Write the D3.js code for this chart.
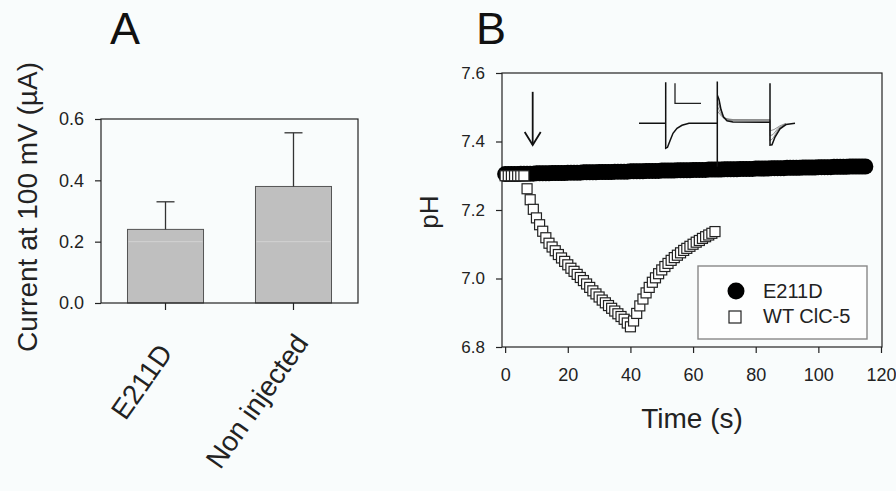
<!DOCTYPE html>
<html>
<head>
<meta charset="utf-8">
<script src="https://cdn.jsdelivr.net/npm/d3@7/dist/d3.min.js"></script>
<style>
  body { margin: 0; background: #f9fcfc; }
  svg { display: block; font-family: "Liberation Sans", Arial, Helvetica, sans-serif; }
  .axis path, .axis line { stroke: #222; stroke-width: 1.2; }
  .axis text { fill: #222; }
</style>
</head>
<body>
<svg id="fig" width="896" height="491"></svg>
<script>
// ---- panel A data: current at 100 mV ----
var categories = ["E211D", "Non injected"];
var currentMean = [0.24, 0.38];
var currentSem = [0.09, 0.175];
var currentTicks = [0, 0.2, 0.4, 0.6];

// ---- panel B data: intracellular pH vs time ----
var timeE211D = [
  0, 1, 2, 3, 4, 5, 6, 7, 8, 9, 10, 11, 12, 13, 14, 15, 16, 17, 18, 19,
  20, 21, 22, 23, 24, 25, 26, 27, 28, 29, 30, 31, 32, 33, 34, 35, 36, 37, 38, 39,
  40, 41, 42, 43, 44, 45, 46, 47, 48, 49, 50, 51, 52, 53, 54, 55, 56, 57, 58, 59,
  60, 61, 62, 63, 64, 65, 66, 67, 68, 69, 70, 71, 72, 73, 74, 75, 76, 77, 78, 79,
  80, 81, 82, 83, 84, 85, 86, 87, 88, 89, 90, 91, 92, 93, 94, 95, 96, 97, 98, 99,
  100, 101, 102, 103, 104, 105, 106, 107, 108, 109, 110, 111, 112, 113, 114, 115
];
var phE211D = [
  7.305, 7.305, 7.305, 7.305, 7.305, 7.306, 7.306, 7.306, 7.306, 7.306,
  7.307, 7.307, 7.307, 7.307, 7.307, 7.308, 7.308, 7.308, 7.308, 7.308,
  7.309, 7.309, 7.309, 7.309, 7.309, 7.310, 7.310, 7.310, 7.310, 7.310,
  7.311, 7.311, 7.311, 7.311, 7.311, 7.312, 7.312, 7.312, 7.312, 7.312,
  7.313, 7.313, 7.313, 7.313, 7.313, 7.314, 7.314, 7.314, 7.314, 7.314,
  7.315, 7.315, 7.315, 7.315, 7.315, 7.316, 7.316, 7.316, 7.316, 7.316,
  7.317, 7.317, 7.317, 7.317, 7.317, 7.318, 7.318, 7.318, 7.318, 7.318,
  7.319, 7.319, 7.319, 7.319, 7.319, 7.320, 7.320, 7.320, 7.320, 7.320,
  7.321, 7.321, 7.321, 7.321, 7.321, 7.322, 7.322, 7.322, 7.322, 7.322,
  7.323, 7.323, 7.323, 7.323, 7.323, 7.324, 7.324, 7.324, 7.324, 7.324,
  7.325, 7.325, 7.325, 7.325, 7.325, 7.326, 7.326, 7.326, 7.326, 7.326,
  7.327, 7.327, 7.327, 7.327, 7.327, 7.327
];
var timeWT = [
  0, 1, 2, 3, 4, 5, 6, 7, 8, 9, 10, 11, 12, 13, 14, 15, 16, 17, 18, 19,
  20, 21, 22, 23, 24, 25, 26, 27, 28, 29, 30, 31, 32, 33, 34, 35, 36, 37, 38, 39,
  40, 41, 42, 43, 44, 45, 46, 47, 48, 49, 50, 51, 52, 53, 54, 55, 56, 57, 58, 59,
  60, 61, 62, 63, 64, 65, 66, 67
];
var phWT = [
  7.300, 7.300, 7.300, 7.300, 7.300, 7.300, 7.300, 7.262, 7.230, 7.202,
  7.177, 7.157, 7.138, 7.119, 7.103, 7.092, 7.081, 7.070, 7.060, 7.050,
  7.040, 7.030, 7.021, 7.012, 7.003, 6.994, 6.984, 6.974, 6.964, 6.955,
  6.946, 6.937, 6.929, 6.921, 6.913, 6.905, 6.897, 6.889, 6.881, 6.870,
  6.859, 6.876, 6.898, 6.920, 6.940, 6.958, 6.974, 6.989, 7.002, 7.014,
  7.025, 7.035, 7.044, 7.053, 7.061, 7.068, 7.075, 7.082, 7.088, 7.094,
  7.100, 7.106, 7.111, 7.117, 7.122, 7.127, 7.132, 7.137
];
var timeTicks = [0, 20, 40, 60, 80, 100, 120];
var phTicks = [6.8, 7.0, 7.2, 7.4, 7.6];
var seriesNames = ["E211D", "WT ClC-5"];
var addTime = 8.8;   // arrow: moment of application
var arrowPh = [7.545, 7.39];

// inset current traces (ms, arbitrary current units)
var insetMain = [
  [0, 0], [26.7, 0], [26.7, 1.64], [26.7, -1.0], [28.5, -0.96], [31, -0.7], [34, -0.4],
  [38, -0.2], [43, -0.08], [50, 0], [78.3, 0], [78.3, 1.67], [78.3, -1.74], [78.3, 1.13],
  [80, 0.95], [82, 0.55], [84.5, 0.25], [88, 0.1], [94, 0.05], [131, 0.04], [131, 1.6],
  [131, -0.87], [133, -0.86], [136, -0.55], [141, -0.22], [147, -0.05], [156, 0]
];
var insetFaint = [
  [[78.3, 0.9], [81, 0.6], [84, 0.3], [88, 0.14], [94, 0.1], [131, 0.09], [131, -0.7], [134, -0.6], [139, -0.25], [146, -0.05]],
  [[78.3, 0.7], [81, 0.45], [84, 0.25], [89, 0.16], [94, 0.13], [131, 0.12], [131, -0.5], [134, -0.45], [139, -0.2], [146, -0.03]],
  [[78.3, 0.5], [81, 0.35], [85, 0.2], [94, 0.15], [131, 0.15], [131, -0.3], [135, -0.25], [141, -0.1], [147, 0]]
];
var insetScaleBar = [[36, 1.6], [36, 0.8], [62, 0.8]];

var svg = d3.select("#fig");

// ================= Panel A =================
var gA = svg.append("g");
var xA = d3.scaleBand().domain(categories).range([101, 358]).paddingInner(0.406).paddingOuter(0.207);
var yA = d3.scaleLinear().domain([0, 0.6]).range([303, 119]);

gA.selectAll("rect.bar")
  .data(categories)
  .enter().append("rect")
  .attr("class", "bar")
  .attr("x", function(d) { return xA(d); })
  .attr("width", xA.bandwidth())
  .attr("y", function(d, i) { return yA(currentMean[i]); })
  .attr("height", function(d, i) { return yA(0) - yA(currentMean[i]); })
  .style("fill", "#bfbfbf")
  .style("stroke", "#555")
  .style("stroke-width", 1);

// faint streak seen across the bars at 0.2
gA.selectAll("line.streak")
  .data(categories)
  .enter().append("line")
  .attr("x1", function(d) { return xA(d) + 1; })
  .attr("x2", function(d) { return xA(d) + xA.bandwidth() - 1; })
  .attr("y1", yA(0.2)).attr("y2", yA(0.2))
  .style("stroke", "#d2d2d2").style("stroke-width", 1);

// error bars (upper only)
var errG = gA.selectAll("g.err").data(categories).enter().append("g");
errG.append("line")
  .attr("x1", function(d) { return xA(d) + xA.bandwidth() / 2; })
  .attr("x2", function(d) { return xA(d) + xA.bandwidth() / 2; })
  .attr("y1", function(d, i) { return yA(currentMean[i]); })
  .attr("y2", function(d, i) { return yA(currentMean[i] + currentSem[i]); })
  .style("stroke", "#333").style("stroke-width", 1.3);
errG.append("line")
  .attr("x1", function(d) { return xA(d) + xA.bandwidth() / 2 - 9; })
  .attr("x2", function(d) { return xA(d) + xA.bandwidth() / 2 + 9; })
  .attr("y1", function(d, i) { return yA(currentMean[i] + currentSem[i]); })
  .attr("y2", function(d, i) { return yA(currentMean[i] + currentSem[i]); })
  .style("stroke", "#333").style("stroke-width", 1.3);

// frame
gA.append("rect")
  .attr("x", 101).attr("y", 119).attr("width", 257).attr("height", 184)
  .style("fill", "none").style("stroke", "#222").style("stroke-width", 1.2);

gA.append("g").attr("class", "axis")
  .attr("transform", "translate(101,0)")
  .call(d3.axisLeft(yA).tickValues(currentTicks).tickFormat(d3.format(".1f")).tickSize(6).tickPadding(11))
  .call(function(g) { g.select(".domain").remove(); })
  .selectAll("text").style("font-size", "18px").style("font-family", "inherit");

var xAxisA = gA.append("g").attr("class", "axis")
  .attr("transform", "translate(0,303)")
  .call(d3.axisBottom(xA).tickSize(7).tickSizeOuter(0))
  .call(function(g) { g.select(".domain").remove(); });
xAxisA.selectAll("text")
  .attr("x", null).attr("y", null).attr("dy", null)
  .attr("text-anchor", "end")
  .attr("transform", function(d, i) { return i == 0 ? "translate(8,50) rotate(-55)" : "translate(16,40) rotate(-55)"; })
  .style("font-size", "28px").style("font-family", "inherit");

gA.append("text")
  .attr("transform", "translate(37,207) rotate(-90)")
  .attr("text-anchor", "middle")
  .style("font-size", "28px").style("fill", "#222")
  .text("Current at 100 mV (µA)");

svg.append("text").attr("x", 110).attr("y", 44).style("font-size", "45px").style("fill", "#111").text("A");
svg.append("text").attr("x", 476).attr("y", 44).style("font-size", "45px").style("fill", "#111").text("B");

// ================= Panel B =================
var gB = svg.append("g");
var xB = d3.scaleLinear().domain([-1, 120]).range([502, 881]);
var yB = d3.scaleLinear().domain([6.8, 7.6]).range([347, 73]);

gB.append("rect")
  .attr("x", 502).attr("y", 73).attr("width", 380).attr("height", 274)
  .style("fill", "none").style("stroke", "#222").style("stroke-width", 1.2);

gB.append("g").attr("class", "axis")
  .attr("transform", "translate(502,0)")
  .call(d3.axisLeft(yB).tickValues(phTicks).tickFormat(d3.format(".1f")).tickSize(6).tickPadding(11))
  .call(function(g) { g.select(".domain").remove(); })
  .selectAll("text").style("font-size", "17px").style("font-family", "inherit");

gB.append("g").attr("class", "axis")
  .attr("transform", "translate(0,347)")
  .call(d3.axisBottom(xB).tickValues(timeTicks).tickFormat(d3.format("d")).tickSize(6).tickPadding(15))
  .call(function(g) { g.select(".domain").remove(); })
  .selectAll("text").style("font-size", "18px").style("font-family", "inherit");

gB.append("text")
  .attr("x", 692).attr("y", 428).attr("text-anchor", "middle")
  .style("font-size", "28px").style("fill", "#222").text("Time (s)");
gB.append("text")
  .attr("transform", "translate(438,212) rotate(-90)")
  .attr("text-anchor", "middle")
  .style("font-size", "26px").style("fill", "#222").text("pH");

// E211D filled circles
gB.selectAll("circle.e211d")
  .data(timeE211D)
  .enter().append("circle")
  .attr("cx", function(d) { return xB(d); })
  .attr("cy", function(d, i) { return yB(phE211D[i]); })
  .attr("r", 8)
  .style("fill", "#000");

// WT squares
var sq = 10;
gB.selectAll("rect.wt")
  .data(timeWT)
  .enter().append("rect")
  .attr("x", function(d) { return xB(d) - sq / 2; })
  .attr("y", function(d, i) { return yB(phWT[i]) - sq / 2; })
  .attr("width", sq).attr("height", sq)
  .style("fill", "#fff").style("stroke", "#222").style("stroke-width", 1.2);

// arrow
var ax = xB(addTime);
gB.append("line")
  .attr("x1", ax).attr("x2", ax)
  .attr("y1", yB(arrowPh[0])).attr("y2", yB(arrowPh[1]))
  .style("stroke", "#111").style("stroke-width", 1.8);
gB.append("path")
  .attr("d", "M" + (ax - 8) + "," + (yB(arrowPh[1]) - 13) + "L" + ax + "," + yB(arrowPh[1]) + "L" + (ax + 8) + "," + (yB(arrowPh[1]) - 13))
  .style("fill", "none").style("stroke", "#111").style("stroke-width", 1.8);

// inset traces
var xIn = d3.scaleLinear().domain([0, 156]).range([639, 795]);
var yIn = d3.scaleLinear().domain([-1, 1]).range([148.3, 98.3]);
var inLine = d3.line().x(function(d) { return xIn(d[0]); }).y(function(d) { return yIn(d[1]); });
insetFaint.forEach(function(tr) {
  gB.append("path").attr("d", inLine(tr))
    .style("fill", "none").style("stroke", "#777").style("stroke-width", 0.8);
});
gB.append("path").attr("d", inLine(insetMain))
  .style("fill", "none").style("stroke", "#111").style("stroke-width", 1.5);
gB.append("path").attr("d", inLine(insetScaleBar))
  .style("fill", "none").style("stroke", "#222").style("stroke-width", 1.3);

// legend
var leg = gB.append("g");
leg.append("rect")
  .attr("x", 698).attr("y", 266).attr("width", 169).attr("height", 73)
  .style("fill", "#fdfefe").style("stroke", "#888").style("stroke-width", 1.4);
leg.append("circle").attr("cx", 736).attr("cy", 291).attr("r", 8.5).style("fill", "#000");
leg.append("rect").attr("x", 729).attr("y", 311).attr("width", 12).attr("height", 12)
  .style("fill", "#fff").style("stroke", "#222").style("stroke-width", 1.2);
leg.selectAll("text.lg")
  .data(seriesNames)
  .enter().append("text")
  .attr("x", 763)
  .attr("y", function(d, i) { return 298 + i * 25; })
  .style("font-size", "20px").style("fill", "#222")
  .text(function(d) { return d; });
</script>
</body>
</html>
